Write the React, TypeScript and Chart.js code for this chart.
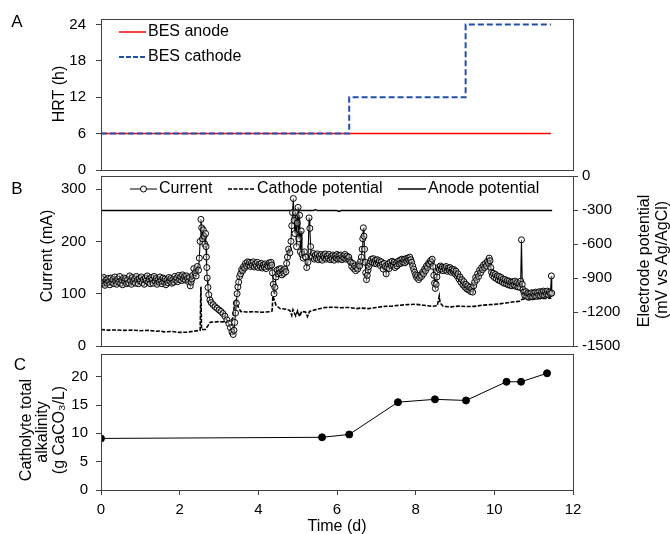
import React, { useEffect, useRef } from "react";
import { Chart, registerables } from "chart.js";
Chart.register(...registerables);

const FONT = '"Liberation Sans", Arial, Helvetica, sans-serif';
const AXIS = "#404040";
const BLUE = "#1F4FB0";
const W = 670;
const H = 534;

// ---------- Panel A : HRT ----------
const hrtAnode = [[0, 6], [11.44, 6]];
const hrtCathode = [[0, 6], [6.31, 12], [9.27, 24], [11.44, 24]];
const hrtTicks = [0, 6, 12, 18, 24];

// ---------- Panel B : current & potentials ----------
const currentData = [
  [0.000,118],[0.025,128],[0.050,121],[0.075,131],[0.100,116],[0.125,126],[0.150,120],[0.175,129],[0.200,123],[0.225,117],
  [0.250,130],[0.275,122],[0.300,127],[0.325,119],[0.350,132],[0.375,124],[0.400,118],[0.425,128],[0.450,122],[0.475,133],
  [0.500,120],[0.525,126],[0.550,117],[0.575,130],[0.600,124],[0.625,129],[0.650,119],[0.675,127],[0.700,121],[0.725,134],
  [0.750,125],[0.775,118],[0.800,131],[0.825,123],[0.850,128],[0.875,120],[0.900,133],[0.925,126],[0.950,119],[0.975,129],
  [1.000,124],[1.025,132],[1.050,121],[1.075,127],[1.100,118],[1.125,130],[1.150,125],[1.175,134],[1.200,122],[1.225,128],
  [1.250,119],[1.275,131],[1.300,126],[1.325,120],[1.350,133],[1.375,124],[1.400,129],[1.425,118],[1.450,127],[1.475,122],
  [1.500,132],[1.525,125],[1.550,119],[1.575,130],[1.600,123],[1.625,128],[1.650,117],[1.675,126],[1.700,121],[1.725,131],
  [1.750,124],[1.775,129],[1.800,120],[1.825,127],[1.850,122],[1.875,133],[1.900,126],[1.925,130],[1.950,123],[1.975,135],
  [2.000,127],[2.025,132],[2.050,125],[2.075,136],[2.100,128],[2.125,133],[2.150,126],[2.175,134],[2.200,129],[2.225,123],
  [2.250,131],[2.270,115],[2.290,122],[2.310,128],[2.330,135],[2.360,148],[2.390,140],[2.420,134],[2.450,152],[2.480,145],
  [2.500,168],[2.520,200],[2.540,242],[2.560,226],[2.580,205],[2.600,222],[2.620,210],[2.640,195],[2.660,215],[2.670,190],
  [2.680,170],[2.690,150],[2.700,130],[2.720,112],[2.740,98],[2.770,88],[2.800,83],[2.850,79],[2.900,75],[2.950,72],
  [3.000,69],[3.050,66],[3.100,62],[3.150,57],[3.200,50],[3.250,43],[3.290,35],[3.330,27],[3.360,22],[3.380,30],
  [3.400,45],[3.420,63],[3.440,82],[3.460,100],[3.480,113],[3.500,122],[3.525,133],[3.550,138],[3.575,146],[3.600,144],
  [3.625,152],[3.650,149],[3.675,158],[3.700,153],[3.725,161],[3.750,155],[3.775,160],[3.800,152],[3.825,159],[3.850,154],
  [3.875,161],[3.900,151],[3.925,157],[3.950,153],[3.975,160],[4.000,150],[4.025,156],[4.050,152],[4.075,158],[4.100,149],
  [4.125,155],[4.150,151],[4.175,157],[4.200,148],[4.225,154],[4.250,152],[4.275,159],[4.300,153],[4.325,160],[4.340,155],
  [4.360,140],[4.380,118],[4.400,100],[4.420,112],[4.450,132],[4.475,145],[4.500,138],[4.525,147],[4.550,140],[4.575,148],
  [4.600,136],[4.625,144],[4.650,139],[4.675,147],[4.700,142],[4.720,158],[4.740,170],[4.770,185],[4.800,178],[4.830,200],
  [4.850,230],[4.870,255],[4.890,282],[4.910,240],[4.930,215],[4.950,255],[4.970,190],[4.990,235],[5.010,265],[5.030,205],
  [5.050,250],[5.070,180],[5.090,220],[5.110,175],[5.140,168],[5.170,180],[5.200,170],[5.230,150],[5.260,160],[5.290,245],
  [5.310,225],[5.330,190],[5.350,172],[5.375,170],[5.400,177],[5.425,166],[5.450,174],[5.475,168],[5.500,176],[5.525,165],
  [5.550,172],[5.575,167],[5.600,175],[5.625,164],[5.650,173],[5.675,169],[5.700,176],[5.725,166],[5.750,172],[5.775,168],
  [5.800,175],[5.825,165],[5.850,171],[5.875,167],[5.900,174],[5.925,164],[5.950,172],[5.975,168],[6.000,175],[6.025,166],
  [6.050,173],[6.075,167],[6.100,174],[6.125,165],[6.150,171],[6.175,168],[6.200,175],[6.225,166],[6.250,172],[6.275,167],
  [6.300,170],[6.325,163],[6.350,160],[6.375,152],[6.400,158],[6.425,148],[6.450,153],[6.475,144],[6.500,150],[6.525,147],
  [6.550,156],[6.575,153],[6.600,162],[6.620,170],[6.640,185],[6.655,205],[6.670,226],[6.685,210],[6.700,185],[6.715,160],
  [6.730,140],[6.750,127],[6.770,135],[6.790,145],[6.810,152],[6.830,158],[6.850,162],[6.875,166],[6.900,160],[6.925,167],
  [6.950,158],[6.975,164],[7.000,157],[7.025,165],[7.050,159],[7.075,163],[7.100,154],[7.125,161],[7.150,156],[7.175,147],
  [7.200,158],[7.225,152],[7.250,138],[7.275,150],[7.300,157],[7.325,148],[7.350,160],[7.375,154],[7.400,162],[7.425,155],
  [7.450,160],[7.475,150],[7.500,158],[7.525,153],[7.550,162],[7.575,157],[7.600,164],[7.625,158],[7.650,166],[7.675,160],
  [7.700,165],[7.725,159],[7.750,167],[7.775,162],[7.800,168],[7.825,164],[7.850,170],[7.875,165],[7.900,160],[7.925,153],
  [7.950,147],[7.975,141],[8.000,136],[8.025,131],[8.050,135],[8.075,127],[8.100,131],[8.125,136],[8.150,133],[8.175,141],
  [8.200,138],[8.225,147],[8.250,144],[8.275,153],[8.300,150],[8.325,158],[8.350,156],[8.375,163],[8.400,160],[8.420,166],
  [8.440,152],[8.460,135],[8.480,120],[8.500,110],[8.520,118],[8.540,132],[8.560,142],[8.580,150],[8.600,146],[8.625,153],
  [8.650,147],[8.675,151],[8.700,144],[8.725,150],[8.750,146],[8.775,152],[8.800,143],[8.825,149],[8.850,145],[8.875,150],
  [8.900,141],[8.925,147],[8.950,143],[8.975,146],[9.000,138],[9.025,143],[9.050,134],[9.075,138],[9.100,128],[9.125,132],
  [9.150,122],[9.175,127],[9.200,117],[9.225,123],[9.250,113],[9.275,118],[9.300,109],[9.325,115],[9.350,107],[9.375,112],
  [9.400,104],[9.425,110],[9.450,103],[9.475,115],[9.500,122],[9.525,131],[9.550,127],[9.575,138],[9.600,133],[9.625,145],
  [9.650,140],[9.675,150],[9.700,146],[9.725,155],[9.750,150],[9.775,158],[9.800,153],[9.825,162],[9.850,158],[9.870,168],
  [9.890,163],[9.910,150],[9.930,141],[9.950,135],[9.975,139],[10.000,131],[10.025,137],[10.050,129],[10.075,134],[10.100,126],
  [10.125,133],[10.150,125],[10.175,131],[10.200,122],[10.225,128],[10.250,120],[10.275,127],[10.300,119],[10.325,125],[10.350,117],
  [10.375,124],[10.400,116],[10.425,122],[10.450,115],[10.475,123],[10.500,117],[10.525,124],[10.550,114],[10.575,121],[10.600,113],
  [10.625,119],[10.650,112],[10.670,124],[10.690,203],[10.710,118],[10.730,108],[10.750,103],[10.775,97],[10.800,104],[10.825,95],
  [10.850,101],[10.875,93],[10.900,100],[10.925,95],[10.950,102],[10.975,94],[11.000,101],[11.025,96],[11.050,103],[11.075,95],
  [11.100,102],[11.125,97],[11.150,104],[11.175,96],[11.200,103],[11.225,98],[11.250,105],[11.275,97],[11.300,104],[11.325,99],
  [11.350,105],[11.375,98],[11.400,103],[11.425,100],[11.450,134],[11.460,101],
];
const cathodePotential = [
  [0.0,-1355],[0.2,-1360],[0.4,-1358],[0.6,-1362],[0.8,-1360],[1.0,-1365],[1.2,-1362],[1.4,-1370],[1.5,-1368],[1.6,-1375],
  [1.8,-1372],[2.0,-1380],[2.2,-1378],[2.35,-1370],[2.45,-1365],[2.52,-1362],[2.54,-975],[2.555,-1355],[2.65,-1355],[2.72,-1320],
  [2.78,-1290],[2.9,-1288],[3.0,-1285],[3.1,-1287],[3.2,-1283],[3.3,-1278],[3.36,-1250],[3.40,-1100],[3.44,-1090],[3.48,-1150],
  [3.55,-1195],[3.7,-1200],[3.9,-1198],[4.1,-1202],[4.3,-1198],[4.35,-1190],[4.37,-1060],[4.40,-1090],[4.45,-1140],[4.55,-1170],
  [4.7,-1175],[4.8,-1185],[4.85,-1230],[4.88,-1180],[4.95,-1235],[5.0,-1190],[5.05,-1240],[5.1,-1195],[5.2,-1200],[5.25,-1240],
  [5.3,-1195],[5.5,-1175],[5.7,-1160],[5.9,-1158],[6.1,-1162],[6.3,-1160],[6.5,-1170],[6.6,-1165],[6.8,-1170],[7.0,-1160],
  [7.2,-1150],[7.4,-1148],[7.6,-1140],[7.8,-1135],[8.0,-1132],[8.2,-1140],[8.4,-1150],[8.55,-1145],[8.6,-1060],[8.62,-1120],
  [8.7,-1150],[8.9,-1155],[9.1,-1148],[9.3,-1152],[9.5,-1150],[9.7,-1140],[9.9,-1135],[10.1,-1130],[10.3,-1120],[10.5,-1110],
  [10.65,-1105],[10.72,-1085],[10.9,-1090],[11.1,-1082],[11.3,-1080],[11.45,-1078],
];
const anodePotential = [[0, -305], [5.4, -305], [5.45, -297], [5.5, -305], [6.0, -305], [6.05, -313], [6.1, -305], [11.47, -305]];
const currentTicks = [0, 100, 200, 300];
const potentialTicks = [0, -300, -600, -900, -1200, -1500];

// ---------- Panel C : alkalinity ----------
const alkalinityTime = [0, 5.62, 6.31, 7.55, 8.49, 9.28, 10.31, 10.68, 11.34];
const alkalinityValues = [9.1, 9.3, 9.8, 15.5, 16.0, 15.8, 19.1, 19.1, 20.6];
const alkalinityTicks = [0, 5, 10, 15, 20];
const timeTicks = [0, 2, 4, 6, 8, 10, 12];

const toXY = (arr: number[][]) => arr.map(([x, y]) => ({ x, y }));

const boxPlugin = {
  id: "box",
  afterDatasetsDraw(chart: any) {
    const { ctx, chartArea: a } = chart;
    ctx.save();
    ctx.strokeStyle = AXIS;
    ctx.lineWidth = 1;
    const l = Math.round(a.left), t = Math.round(a.top), r = Math.round(a.right), b = Math.round(a.bottom);
    ctx.strokeRect(l + 0.5, t + 0.5, r - l, b - t);
    ctx.restore();
  },
};

const textPlugin = {
  id: "texts",
  afterDraw(chart: any, _args: any, opts: any) {
    const ctx = chart.ctx;
    (opts.items || []).forEach((t: any) => {
      ctx.save();
      ctx.font = `${t.size || 16}px ${FONT}`;
      ctx.fillStyle = "#000";
      ctx.textAlign = t.align || "center";
      ctx.textBaseline = "middle";
      ctx.translate(t.x, t.y);
      if (t.rot) ctx.rotate(t.rot);
      ctx.fillText(t.text, 0, 0);
      ctx.restore();
    });
  },
};

const legendPlugin = {
  id: "legendDraw",
  afterDraw(chart: any, _args: any, opts: any) {
    const ctx = chart.ctx;
    (opts.items || []).forEach((it: any) => {
      ctx.save();
      ctx.strokeStyle = it.color;
      ctx.lineWidth = it.width;
      ctx.setLineDash(it.dash || []);
      ctx.beginPath();
      ctx.moveTo(it.x1, it.y);
      ctx.lineTo(it.x2, it.y);
      ctx.stroke();
      ctx.setLineDash([]);
      if (it.marker) {
        ctx.beginPath();
        ctx.arc((it.x1 + it.x2) / 2, it.y, 3, 0, Math.PI * 2);
        ctx.fillStyle = "#fff";
        ctx.fill();
        ctx.lineWidth = 1;
        ctx.strokeStyle = "#000";
        ctx.stroke();
      }
      ctx.font = `16px ${FONT}`;
      ctx.fillStyle = "#000";
      ctx.textAlign = "left";
      ctx.textBaseline = "middle";
      ctx.fillText(it.label, it.tx, it.y);
      ctx.restore();
    });
  },
};

const PLOT_L = 101;
const PLOT_R = 573;

function yAxis(min: number, max: number, ticks: number[], pad: number, position = "left", width = PLOT_L) {
  return {
    type: "linear",
    position,
    min,
    max,
    afterBuildTicks: (s: any) => { s.ticks = ticks.map((v) => ({ value: v })); },
    afterFit: (s: any) => { s.width = width; },
    grid: { drawOnChartArea: false, drawTicks: true, tickLength: 5, color: AXIS, lineWidth: 1 },
    border: { display: false },
    ticks: { padding: pad, color: "#000", font: { size: 15, family: FONT }, callback: (v: any) => String(v) },
  };
}

function baseOptions(padding: any, scales: any, texts: any[], legendItems: any[]) {
  return {
    responsive: false,
    animation: false,
    devicePixelRatio: 1,
    layout: { padding },
    plugins: {
      legend: { display: false },
      tooltip: { enabled: false },
      texts: { items: texts },
      legendDraw: { items: legendItems },
    },
    scales,
  };
}

function makeConfigs() {
  const hiddenX = { type: "linear", min: 0, max: 12, display: false };

  const cfgA = {
    type: "line",
    data: {
      datasets: [
        { label: "BES cathode", data: toXY(hrtCathode), borderColor: BLUE, borderWidth: 2, borderDash: [6, 3], stepped: "before", pointRadius: 0, order: 0 },
        { label: "BES anode", data: toXY(hrtAnode), borderColor: "#FF0000", borderWidth: 1.5, pointRadius: 0, order: 1 },
      ],
    },
    options: baseOptions(
      { top: 15, bottom: H - 170, left: 0, right: W - PLOT_R },
      { x: hiddenX, y: yAxis(0, 24.9, hrtTicks, 10) },
      [
        { text: "A", x: 17, y: 22, size: 17 },
        { text: "HRT (h)", x: 60, y: 94, rot: -Math.PI / 2 },
      ],
      [
        { x1: 119, x2: 146, y: 32, color: "#FF0000", width: 1.5, label: "BES anode", tx: 148 },
        { x1: 119, x2: 146, y: 57, color: BLUE, width: 2, dash: [5, 2], label: "BES cathode", tx: 148 },
      ]
    ),
    plugins: [boxPlugin, textPlugin, legendPlugin],
  };

  const cfgB = {
    type: "line",
    data: {
      datasets: [
        { label: "Current", data: toXY(currentData), yAxisID: "y", borderColor: "#000", borderWidth: 1.1, pointRadius: 3, pointBorderWidth: 1, pointBackgroundColor: "rgba(255,255,255,0.35)", pointBorderColor: "#000", order: 0 },
        { label: "Cathode potential", data: toXY(cathodePotential), yAxisID: "y2", borderColor: "#000", borderWidth: 1.6, borderDash: [4, 1.5], pointRadius: 0, order: 1 },
        { label: "Anode potential", data: toXY(anodePotential), yAxisID: "y2", borderColor: "#000", borderWidth: 1.5, pointRadius: 0, order: 2 },
      ],
    },
    options: baseOptions(
      { top: 176, bottom: H - 346, left: 0, right: 0 },
      {
        x: hiddenX,
        y: yAxis(0, 325, currentTicks, 10),
        y2: yAxis(-1500, 0, potentialTicks, 4, "right", W - PLOT_R),
      },
      [
        { text: "B", x: 17, y: 189, size: 17 },
        { text: "Current (mA)", x: 48, y: 256, rot: -Math.PI / 2 },
        { text: "Electrode potential", x: 645, y: 261, rot: -Math.PI / 2 },
        { text: "(mV vs Ag/AgCl)", x: 663, y: 260, rot: -Math.PI / 2 },
      ],
      [
        { x1: 130, x2: 157, y: 189, color: "#000", width: 1, marker: true, label: "Current", tx: 159 },
        { x1: 228, x2: 255, y: 189, color: "#000", width: 1.6, dash: [4, 1.5], label: "Cathode potential", tx: 257 },
        { x1: 398, x2: 426, y: 189, color: "#000", width: 1.5, label: "Anode potential", tx: 428 },
      ]
    ),
    plugins: [boxPlugin, textPlugin, legendPlugin],
  };

  const cfgC = {
    type: "line",
    data: {
      datasets: [
        { label: "Alkalinity", data: alkalinityTime.map((x, i) => ({ x, y: alkalinityValues[i] })), borderColor: "#000", borderWidth: 1, pointRadius: 3.5, pointBackgroundColor: "#000", pointBorderColor: "#000" },
      ],
    },
    options: baseOptions(
      { top: 354, bottom: H - 490 - 30, left: 0, right: W - PLOT_R },
      {
        x: {
          type: "linear",
          position: "bottom",
          min: 0,
          max: 12,
          afterBuildTicks: (s: any) => { s.ticks = timeTicks.map((v) => ({ value: v })); },
          afterFit: (s: any) => { s.height = 30; },
          grid: { drawOnChartArea: false, drawTicks: true, tickLength: 5, color: AXIS, lineWidth: 1 },
          border: { display: false },
          ticks: { padding: 6, color: "#000", maxRotation: 0, font: { size: 15, family: FONT }, callback: (v: any) => String(v) },
        },
        y: yAxis(0, 24, alkalinityTicks, 8),
      },
      [
        { text: "C", x: 20, y: 365, size: 17 },
        { text: "Catholyte total", x: 27, y: 430, rot: -Math.PI / 2 },
        { text: "alkalinity", x: 43, y: 432, rot: -Math.PI / 2 },
        { text: "(g CaCO\u2083/L)", x: 60, y: 430, rot: -Math.PI / 2 },
        { text: "Time (d)", x: 337, y: 527 },
      ],
      []
    ),
    plugins: [boxPlugin, textPlugin, legendPlugin],
  };

  return [cfgA, cfgB, cfgC];
}

export default function App() {
  const refA = useRef<HTMLCanvasElement>(null);
  const refB = useRef<HTMLCanvasElement>(null);
  const refC = useRef<HTMLCanvasElement>(null);

  useEffect(() => {
    Chart.defaults.font.family = FONT;
    const cfgs = makeConfigs();
    const canvases = [refA.current, refB.current, refC.current];
    const charts = canvases.map((c, i) => new Chart(c as HTMLCanvasElement, cfgs[i] as any));
    return () => charts.forEach((ch) => ch.destroy());
  }, []);

  const style: React.CSSProperties = { position: "absolute", left: 0, top: 0, width: W, height: H };
  return (
    <div style={{ position: "absolute", left: 0, top: 0, width: W, height: H, background: "#fff", overflow: "hidden" }}>
      <canvas ref={refA} width={W} height={H} style={style} />
      <canvas ref={refB} width={W} height={H} style={style} />
      <canvas ref={refC} width={W} height={H} style={style} />
    </div>
  );
}
